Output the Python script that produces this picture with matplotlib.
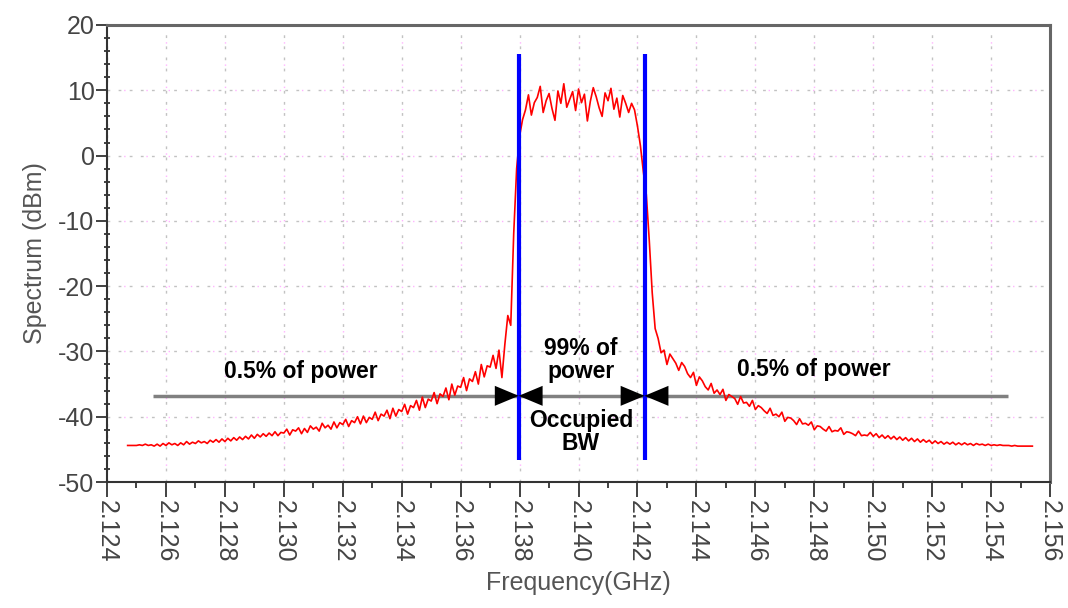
import numpy as np
import matplotlib
matplotlib.use("Agg")
import matplotlib.pyplot as plt
from matplotlib.ticker import MultipleLocator

plt.rcParams['font.family'] = ['Liberation Sans', 'DejaVu Sans']
plt.rcParams['axes.unicode_minus'] = False

# Spektrum-Daten, Raster 0.1 MHz ab 2.1247 GHz
f_start = 2.1247
f_step = 0.0001

# linke Flanke bis zur Bandkante (2.1247 ... 2.1381 GHz)
left_skirt = [
    -44.4, -44.4, -44.4, -44.4, -44.3, -44.4, -44.2, -44.4, -44.3, -44.5,
    -44.2, -44.5, -44.1, -44.4, -44.0, -44.3, -44.1, -44.4, -44.0, -44.3,
    -43.8, -44.2, -43.9, -44.1, -43.7, -44.0, -43.8, -44.1, -43.6, -43.9,
    -43.5, -43.9, -43.4, -43.8, -43.3, -43.7, -43.2, -43.6, -43.1, -43.5,
    -43.0, -43.4, -42.8, -43.3, -42.7, -43.1, -42.6, -43.0, -42.5, -42.9,
    -42.3, -42.9, -42.4, -42.5, -41.9, -42.8, -42.0, -42.2, -41.7, -42.6,
    -41.8, -42.4, -41.4, -41.9, -41.6, -42.2, -41.0, -41.7, -41.3, -41.9,
    -40.8, -41.7, -40.9, -41.2, -40.4, -41.5, -40.6, -40.9, -40.0, -41.1,
    -39.9, -40.9, -40.1, -40.4, -39.3, -40.6, -39.6, -39.9, -39.0, -40.3,
    -38.7, -39.9, -38.9, -39.2, -38.1, -39.6, -38.3, -38.6, -37.5, -39.0,
    -37.0, -38.6, -37.3, -37.6, -36.3, -38.0, -36.5, -36.9, -35.6, -37.4,
    -35.0, -36.7, -35.3, -35.5, -34.0, -36.0, -34.2, -34.6, -33.1, -35.0,
    -32.0, -33.9, -32.2, -32.4, -30.6, -32.6, -29.8, -34.0, -28.9, -24.5,
    -26.0, -12.0, -2.0, 3.0, 5.5,
]

# Nutzband (2.1382 ... 2.1418 GHz)
passband = [
    7.0, 9.3, 6.2, 8.1, 8.9, 10.6, 6.6, 8.4, 9.5, 7.2,
    5.4, 9.9, 8.0, 11.0, 7.4, 8.6, 9.8, 6.9, 10.2, 8.1,
    9.4, 5.3, 8.3, 10.4, 9.0, 7.3, 6.0, 9.6, 8.4, 10.3,
    7.1, 8.8, 5.9, 9.2, 8.0, 6.6, 8.0,
]

# rechte Flanke (2.1419 ... 2.1554 GHz)
right_skirt = [
    7.0, 4.5, 1.5, -2.5, -6.0, -13.0, -21.0, -26.5, -28.0, -30.2,
    -29.8, -32.0, -30.4, -31.1, -31.8, -32.9, -31.7, -32.3, -33.4, -34.0,
    -33.2, -35.2, -33.9, -34.5, -35.4, -35.9, -34.9, -36.4, -35.9, -36.6,
    -35.8, -37.5, -36.6, -36.9, -37.2, -38.1, -36.9, -37.9, -37.8, -38.4,
    -37.5, -38.9, -38.3, -38.6, -39.1, -39.5, -38.7, -39.8, -39.6, -40.0,
    -39.3, -40.7, -40.1, -40.2, -40.6, -41.2, -40.3, -41.1, -41.0, -41.3,
    -40.8, -42.0, -41.4, -41.5, -41.9, -42.2, -41.5, -42.3, -42.1, -42.2,
    -41.7, -42.7, -42.3, -42.4, -42.6, -42.9, -42.2, -42.9, -42.8, -42.9,
    -42.4, -43.0, -42.6, -43.2, -42.8, -43.3, -42.9, -43.4, -43.0, -43.5,
    -43.1, -43.6, -43.2, -43.7, -43.3, -43.8, -43.4, -43.9, -43.5, -43.9,
    -43.6, -44.1, -43.7, -44.1, -43.8, -44.2, -43.9, -44.2, -43.9, -44.3,
    -44.0, -44.3, -44.0, -44.3, -44.1, -44.4, -44.1, -44.3, -44.2, -44.4,
    -44.2, -44.4, -44.3, -44.4, -44.3, -44.4, -44.4, -44.4, -44.5, -44.4,
    -44.5, -44.5, -44.5, -44.5, -44.5, -44.5,
]

# Occupied Bandwidth (99 %) und 0.5%-Bereiche
obw_edges = [2.13797, 2.14224]
obw_marker_range = [-46.6, 15.5]
power_line_level = -36.8
power_line_span = [2.12556, 2.15457]

spectrum = np.array(left_skirt + passband + right_skirt)
freq = f_start + f_step * np.arange(len(spectrum))

fig = plt.figure(figsize=(10.68, 6.08), dpi=100)
ax = fig.add_axes([0.1002, 0.2072, 0.883, 0.7517])

# Gitter: grau gepunktet mit vereinzelten rosa Punkten
ax.grid(True, which='major', color='#c2c2c2', linestyle=(0, (2, 6)), lw=1.0)
for x in np.arange(2.126, 2.1555, 0.002):
    ax.axvline(x, color='#ffb3ff', linestyle=(4, (1, 15)), lw=1.0, zorder=0.5)
for y in range(-40, 20, 10):
    ax.axhline(y, color='#ffb3ff', linestyle=(4, (1, 15)), lw=1.0, zorder=0.5)

ax.plot(freq, spectrum, color='#ff0000', lw=1.2, zorder=3)

ax.hlines(power_line_level, power_line_span[0], power_line_span[1],
          color='#808080', lw=2.5, zorder=2)
ax.vlines(obw_edges, obw_marker_range[0], obw_marker_range[1],
          color='#0000ff', lw=3, zorder=4)

# Pfeilspitzen an den Bandkanten
for edge in obw_edges:
    for dx in (-24, 24):
        ax.annotate('', xy=(edge, power_line_level), xytext=(dx, 0),
                    textcoords='offset points',
                    arrowprops=dict(arrowstyle='-|>,head_length=0.86,head_width=0.36',
                                    mutation_scale=20, color='black', lw=0,
                                    shrinkA=0, shrinkB=0),
                    zorder=5)

txt = dict(fontsize=16.5, fontweight='bold', color='black', ha='center', va='center',
           linespacing=1.0, zorder=6)
ax.text(2.13056, -33.0, '0.5% of power', **txt)
ax.text(2.14797, -32.7, '0.5% of power', **txt)
ax.text(2.14008, -31.3, '99% of\npower', **txt)
ax.text(2.14008, -42.3, 'Occupied\nBW', **txt)

ax.set_xlim(2.124, 2.156)
ax.set_ylim(-50, 20)
xt = np.arange(2.124, 2.1561, 0.002)
ax.set_xticks(xt)
ax.set_xticklabels(['%.3f' % v for v in xt], rotation=-90)
ax.xaxis.set_minor_locator(MultipleLocator(0.001))
ax.yaxis.set_major_locator(MultipleLocator(10))
ax.yaxis.set_minor_locator(MultipleLocator(2))
ax.tick_params(axis='x', which='major', length=11, width=1.3, color='#333333',
               labelsize=18, labelcolor='#444444', pad=2)
ax.tick_params(axis='x', which='minor', length=4, width=1.3, color='#333333')
ax.tick_params(axis='y', which='major', length=8, width=1.3, color='#333333',
               labelsize=18, labelcolor='#444444', pad=1)
ax.tick_params(axis='y', which='minor', length=5, width=1.3, color='#333333',
               direction='inout')

for side in ['left', 'bottom']:
    ax.spines[side].set_color('#333333')
    ax.spines[side].set_linewidth(1.5)
for side in ['top', 'right']:
    ax.spines[side].set_color('#666666')
    ax.spines[side].set_linewidth(2.2)

ax.set_xlabel('Frequency(GHz)', fontsize=18, color='#555555', labelpad=6)
ax.set_ylabel('Spectrum (dBm)', fontsize=18, color='#555555', labelpad=8)

plt.savefig('out.png', dpi=100)
